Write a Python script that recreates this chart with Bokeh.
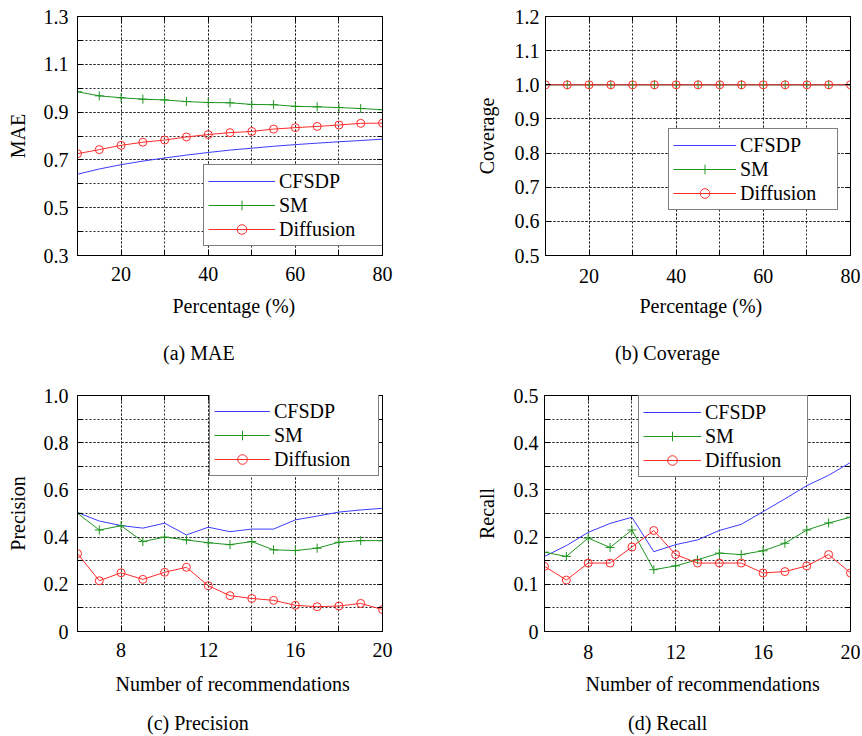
from bokeh.plotting import figure
from bokeh.models import (Range1d, FixedTicker, LinearAxis, Legend, LegendItem,
                          Title, Div, CustomJSTickFormatter)
from bokeh.layouts import column, row
from bokeh.embed import file_html
from bokeh.resources import INLINE

FONT = "Liberation Serif"
BLUE = "#3c3cff"
GREEN = "#1f951f"
RED = "#ff2a2a"

# ---------------- data ----------------
pct = [10, 15, 20, 25, 30, 35, 40, 45, 50, 55, 60, 65, 70, 75, 80]
mae_cfsdp = [0.640, 0.662, 0.680, 0.695, 0.708, 0.720, 0.731, 0.741, 0.749,
             0.757, 0.764, 0.770, 0.776, 0.781, 0.787]
mae_sm = [0.985, 0.968, 0.960, 0.954, 0.951, 0.944, 0.940, 0.939, 0.932,
          0.931, 0.924, 0.922, 0.919, 0.915, 0.910]
mae_diff = [0.726, 0.743, 0.761, 0.774, 0.783, 0.796, 0.806, 0.814, 0.819,
            0.829, 0.835, 0.840, 0.846, 0.853, 0.854]

cov_cfsdp = [1.0] * 15
cov_sm = [1.0] * 15
cov_diff = [1.0] * 15

nrec = [6, 7, 8, 9, 10, 11, 12, 13, 14, 15, 16, 17, 18, 19, 20]
prec_cfsdp = [0.504, 0.468, 0.449, 0.438, 0.459, 0.409, 0.442, 0.423, 0.434,
              0.434, 0.473, 0.489, 0.506, 0.515, 0.522]
prec_sm = [0.501, 0.430, 0.448, 0.381, 0.400, 0.388, 0.376, 0.368, 0.381,
           0.346, 0.343, 0.353, 0.378, 0.385, 0.385]
prec_diff = [0.330, 0.215, 0.249, 0.221, 0.251, 0.272, 0.194, 0.152, 0.140,
             0.132, 0.111, 0.105, 0.108, 0.119, 0.093]

rec_cfsdp = [0.159, 0.182, 0.210, 0.229, 0.242, 0.169, 0.184, 0.194, 0.214,
             0.227, 0.254, 0.281, 0.309, 0.331, 0.358]
rec_sm = [0.168, 0.159, 0.198, 0.178, 0.215, 0.131, 0.139, 0.152, 0.166,
          0.163, 0.171, 0.187, 0.215, 0.230, 0.242]
rec_diff = [0.138, 0.109, 0.145, 0.145, 0.179, 0.214, 0.163, 0.145, 0.145,
            0.145, 0.124, 0.127, 0.139, 0.163, 0.124]

series_names = ["CFSDP", "SM", "Diffusion"]

pct_ticks = [20, 40, 60, 80]
pct_grid = [10, 20, 30, 40, 50, 60, 70, 80]
nrec_ticks = [8, 12, 16, 20]
nrec_grid = [6, 8, 10, 12, 14, 16, 18, 20]

mae_ticks = [0.3, 0.5, 0.7, 0.9, 1.1, 1.3]
mae_grid = [0.3, 0.4, 0.5, 0.6, 0.7, 0.8, 0.9, 1.0, 1.1, 1.2, 1.3]
cov_ticks = [0.5, 0.6, 0.7, 0.8, 0.9, 1.0, 1.1, 1.2]
prec_ticks = [0, 0.2, 0.4, 0.6, 0.8, 1.0]
prec_grid = [0, 0.1, 0.2, 0.3, 0.4, 0.5, 0.6, 0.7, 0.8, 0.9, 1.0]
rec_ticks = [0, 0.1, 0.2, 0.3, 0.4, 0.5]
rec_grid = [0, 0.05, 0.1, 0.15, 0.2, 0.25, 0.3, 0.35, 0.4, 0.45, 0.5]

captions = ["(a) MAE", "(b) Coverage", "(c) Precision", "(d) Recall"]

yfmt_code = "return tick == 0 ? '0' : tick.toFixed(1);"


def make_panel(x, ys, xr, xt, xg, yr, yt, yg, ylabel, xlabel,
               W, H, bl, br, bt, bb, ylab_standoff, ytick_standoff, xtick_standoff,
               leg_loc, glyph_w, label_w, xlab_off, xlab_standoff,
               markers=(None, "cross", "circle")):
    p = figure(width=W, height=H, output_backend="svg", toolbar_location=None,
               x_range=Range1d(*xr), y_range=Range1d(*yr),
               min_border_left=bl, min_border_right=br,
               min_border_top=bt, min_border_bottom=bb,
               background_fill_color="white", border_fill_color="white")
    p.outline_line_color = "black"
    p.outline_line_width = 1

    xtick = FixedTicker(ticks=xt, minor_ticks=xg)
    ytick = FixedTicker(ticks=yt, minor_ticks=yg)

    xa = p.below[0]
    ya = p.left[0]
    xa.ticker = xtick
    ya.ticker = ytick
    ya.formatter = CustomJSTickFormatter(code=yfmt_code)

    top = LinearAxis(ticker=xtick, formatter=CustomJSTickFormatter(code="return '';"))
    right = LinearAxis(ticker=ytick, formatter=CustomJSTickFormatter(code="return '';"))
    p.add_layout(top, "above")
    p.add_layout(right, "right")

    for ax in [xa, ya, top, right]:
        ax.axis_line_color = "black"
        ax.major_tick_line_color = "black"
        ax.minor_tick_line_color = "black"
        ax.major_tick_in = 5
        ax.major_tick_out = 0
        ax.minor_tick_in = 5
        ax.minor_tick_out = 0
        ax.major_label_text_font = FONT
        ax.major_label_text_color = "black"
    for ax in [top, right]:
        ax.major_label_standoff = 0

    xa.major_label_text_font_size = "20px"
    xa.major_label_standoff = xtick_standoff
    ya.major_label_text_font_size = "20px"
    ya.major_label_standoff = ytick_standoff
    ya.axis_label = ylabel
    ya.axis_label_text_font = FONT
    ya.axis_label_text_font_size = "20px"
    ya.axis_label_text_font_style = "normal"
    ya.axis_label_text_color = "black"
    ya.axis_label_standoff = ylab_standoff

    for g, t in [(p.xgrid[0], xtick), (p.ygrid[0], ytick)]:
        g.ticker = t
        g.grid_line_color = "#222222"
        g.grid_line_dash = "2 2"
        g.grid_line_width = 1
        g.minor_grid_line_color = "#222222"
        g.minor_grid_line_dash = "2 2"
        g.minor_grid_line_width = 1

    colors = [BLUE, GREEN, RED]
    items = []
    for name, yv, c, m in zip(series_names, ys, colors, markers):
        rs = [p.line(x, yv, line_color=c, line_width=1, line_dash="solid")]
        if m == "cross":
            rs.append(p.scatter(x, yv, marker="cross", size=9, line_color=c,
                                line_width=1))
        elif m == "circle":
            rs.append(p.scatter(x, yv, marker="circle", size=8, line_color=c,
                                fill_color=None, line_width=1))
        items.append(LegendItem(label=name, renderers=rs))

    leg = Legend(items=items, location=leg_loc,
                 label_text_font=FONT, label_text_font_size="20px",
                 label_text_color="black",
                 border_line_color="black", border_line_width=1,
                 background_fill_color="white", background_fill_alpha=1,
                 padding=4, spacing=0, margin=0,
                 glyph_width=glyph_w, glyph_height=24,
                 label_height=24, label_width=label_w, label_standoff=4)
    p.add_layout(leg, "center")

    t1 = Title(text=xlabel, align="left", offset=xlab_off,
               text_font=FONT, text_font_size="20px",
               text_font_style="normal", text_color="black",
               standoff=xlab_standoff)
    p.add_layout(t1, "below")
    return p


def caption_div(text, left, top, H):
    html = ('<div style="margin-left:%dpx;padding-top:%dpx;font-family:\'%s\';'
            'font-size:20px;line-height:20px;color:black;white-space:nowrap;">%s</div>'
            % (left, top, FONT, text))
    return Div(text=html, width=431, height=H, margin=0)


pa = make_panel(pct, [mae_cfsdp, mae_sm, mae_diff], (10, 80), pct_ticks, pct_grid,
                (0.3, 1.3), mae_ticks, mae_grid, "MAE", "Percentage (%)",
                431, 330, 77, 49, 16, 74, 12, 9, 11,
                (126, 9), 67, 99, 95, 19)
pb = make_panel(pct, [cov_cfsdp, cov_sm, cov_diff], (10, 80), pct_ticks, pct_grid,
                (0.5, 1.2), cov_ticks, cov_ticks, "Coverage", "Percentage (%)",
                431, 330, 114, 12, 15, 75, 14, 6, 13,
                (123, 45), 63, 93, 94, 15)
pc = make_panel(nrec, [prec_cfsdp, prec_sm, prec_diff], (6, 20), nrec_ticks, nrec_grid,
                (0, 1.0), prec_ticks, prec_grid, "Precision",
                "Number of recommendations",
                431, 340, 77, 49, 27, 76, 12, 9, 11,
                (132, 155), 56, 100, 38, 23)
pd_ = make_panel(nrec, [rec_cfsdp, rec_sm, rec_diff], (6, 20), nrec_ticks, nrec_grid,
                 (0, 0.5), rec_ticks, rec_grid, "Recall",
                 "Number of recommendations",
                 431, 340, 113, 12, 24, 77, 13, 6, 13,
                 (94, 154), 58, 98, 41, 19)

da = caption_div(captions[0], 163, 13, 38)
db = caption_div(captions[1], 184, 13, 38)
dc = caption_div(captions[2], 147, 5, 28)
dd = caption_div(captions[3], 197, 5, 28)

layout = column(row(pa, pb), row(da, db), row(pc, pd_), row(dc, dd))

open("out.html", "w").write(file_html(layout, INLINE))
